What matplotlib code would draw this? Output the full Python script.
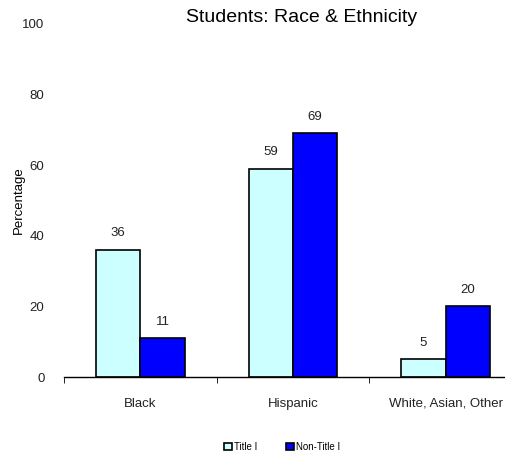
import numpy as np
import matplotlib.pyplot as plt
from matplotlib.patches import Patch

categories = ["Black", "Hispanic", "White, Asian, Other"]
title_i = [36, 59, 5]
non_title_i = [11, 69, 20]
series_names = ["Title I", "Non-Title I"]

plt.rcParams["font.family"] = ["Liberation Sans", "DejaVu Sans"]

fig = plt.figure(figsize=(5.06, 4.55), dpi=100)
ax = fig.add_axes([64 / 506, 1 - 377 / 455, 458 / 506, 353 / 455])

x = np.arange(len(categories))
w = 0.29
b1 = ax.bar(x - w / 2, title_i, w, color="#ccffff", edgecolor="black", linewidth=1.2)
b2 = ax.bar(x + w / 2, non_title_i, w, color="#0000ff", edgecolor="black", linewidth=1.2)

for bars, vals in [(b1, title_i), (b2, non_title_i)]:
    for r, v in zip(bars, vals):
        ax.text(r.get_x() + r.get_width() / 2, v + 3, str(v),
                ha="center", va="bottom", fontsize=9.5, color="#222222")

ax.set_xlim(-0.5, 2.5)
ax.set_ylim(0, 100)
ax.set_yticks([0, 20, 40, 60, 80, 100])
ax.tick_params(axis="y", length=0, pad=14, labelsize=9.5, colors="#222222")
ax.set_xticks(x)
ax.set_xticklabels(categories)
ax.set_xticks([-0.5, 0.5, 1.5, 2.5], minor=True)
ax.tick_params(axis="x", which="major", length=0, pad=15, labelsize=9.5, colors="#222222")
ax.tick_params(axis="x", which="minor", length=4, direction="out", color="black")

for s in ["left", "right", "top"]:
    ax.spines[s].set_visible(False)
ax.spines["bottom"].set_linewidth(1)

ax.set_ylabel("Percentage", fontsize=9.5)
ax.yaxis.set_label_coords(-0.085, 0.5)

fig.text(302 / 506, 1 - 18 / 455, "Students: Race & Ethnicity", ha="center",
         va="center", fontsize=14)

handles = [Patch(facecolor="#ccffff", edgecolor="black", linewidth=1.2),
           Patch(facecolor="#0000ff", edgecolor="black", linewidth=1.2)]
fig.legend(handles, series_names, loc="center", bbox_to_anchor=(282 / 506, 1 - 447 / 455),
           ncol=2, frameon=False, fontsize=7, handlelength=0.8, handleheight=0.8,
           handletextpad=0.2, columnspacing=3.0)

fig.savefig("out.png", dpi=100)
